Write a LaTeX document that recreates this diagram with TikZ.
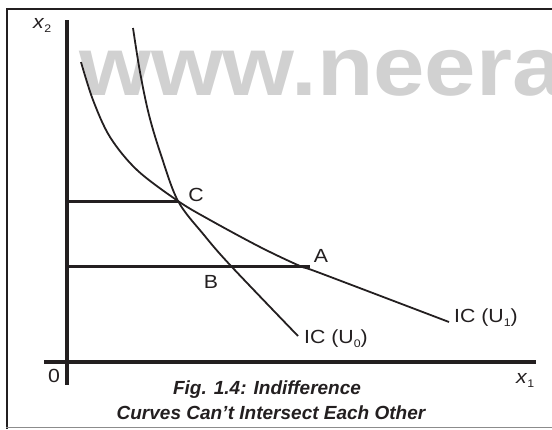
\documentclass[tikz,border=0pt]{standalone}
\usepackage{fontspec}
\setmainfont{Liberation Sans}
\newfontfamily\lab[FakeStretch=1.12]{Liberation Sans}
\newfontfamily\wmfont[FakeStretch=1.1]{Liberation Sans}
\definecolor{ink}{HTML}{231F20}
\newcommand{\lsub}[1]{\raisebox{-4pt}{\fontsize{11}{11}\selectfont #1}}
\begin{document}
\begin{tikzpicture}[x=1pt,y=-1pt,
  curve/.style={draw=ink, line width=1.8pt},
  guide/.style={draw=ink, line width=3pt},
  axis/.style={draw=ink, line width=3.2pt},
  lbl/.style={font=\lab\fontsize{19}{22}\selectfont, text=ink, inner sep=0pt},
  captxt/.style={font=\fontsize{19}{22}\bfseries\itshape\selectfont, text=ink, inner sep=0pt, anchor=base},
  wmark/.style={anchor=base west, inner sep=0pt, text=black!18, font=\wmfont\fontsize{84}{90}\bfseries\selectfont}
]
\useasboundingbox (0,0) rectangle (552,429);
\begin{scope}
\clip (0,0) rectangle (552,429);
\node[wmark] (wm) at (79,95) {www.neera};
\end{scope}
% frame
\draw[ink, line width=2.5pt] (7,429) -- (7,9) -- (552,9);
\draw[black!45, line width=1.5pt] (6,427.5) -- (552,427.5);
% axes
\coordinate (ytop) at (67,20);
\coordinate (ybot) at (67,385);
\coordinate (xl) at (44,362);
\coordinate (xr) at (536,362);
\draw[axis] (ytop) -- (ybot);
\draw[axis] (xl) -- (xr);
% points
\coordinate (C) at (178,201);
\coordinate (A) at (300,266);
\coordinate (B) at (231,266);
\coordinate (Cy) at (67,201);
\coordinate (Ay) at (67,266);
\coordinate (Aend) at (310,266);
% guides
\draw[guide] (Cy) -- (C);
\draw[guide] (Ay) -- (Aend);
% curves
\draw[curve] plot[smooth, tension=0.55] coordinates {(133,28) (140,72) (149,115) (161,155) (C) (204,235) (B) (298,336)};
\draw[curve] plot[smooth, tension=0.55] coordinates {(81,62) (93,100) (110,137) (137,170) (C) (210,220) (260,247) (A) (320,273) (449,322)};
% labels
\node[lbl] (lC) at (196,195) {C};
\node[lbl] (lA) at (321,256) {A};
\node[lbl] (lB) at (211,282) {B};
\node[lbl, anchor=west] (lU0) at (304,339) {IC (U\lsub{0})};
\node[lbl, anchor=west] (lU1) at (454,318) {IC (U\lsub{1})};
\node[lbl] (l0) at (54,375.5) {0};
\node[lbl, anchor=base west] (lx2) at (33,28) {\textit{x}\lsub{2}};
\node[lbl, anchor=base west] (lx1) at (516,383) {\textit{x}\lsub{1}};
% caption
\node[captxt] (cap1) at (267,394) {Fig. 1.4: Indifference};
\node[captxt] (cap2) at (271,419) {Curves Can’t Intersect Each Other};
\end{tikzpicture}
\end{document}
